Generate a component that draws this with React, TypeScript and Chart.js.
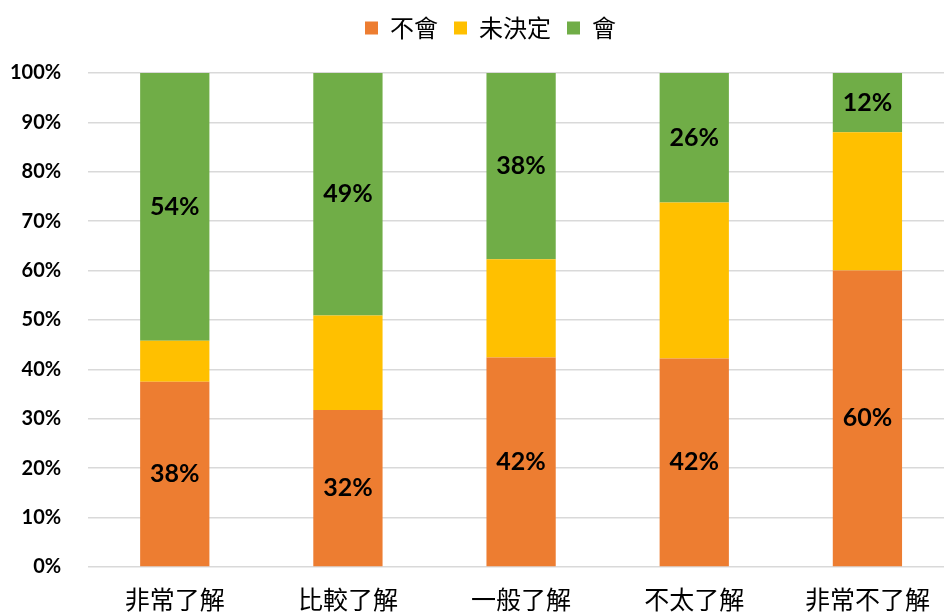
import React, { useEffect, useRef } from "react";
import { Chart, registerables, type ChartConfiguration, type Plugin } from "chart.js";

Chart.register(...registerables);

// chart data
const categories = ["非常了解", "比較了解", "一般了解", "不太了解", "非常不了解"];
const seriesNames = ["不會", "未決定", "會"];
const noValues = [37.5, 31.8, 42.4, 42.2, 60.0];
const undecidedValues = [8.3, 19.1, 19.9, 31.6, 28.0];
const yesValues = [54.2, 49.1, 37.7, 26.2, 12.0];
const yTicks = [0, 10, 20, 30, 40, 50, 60, 70, 80, 90, 100];

const COLORS = ["#ED7D31", "#FFC000", "#70AD47"];
const CJK_FONT = "'Noto Sans CJK TC', 'Noto Sans CJK SC', sans-serif";
const NUM_FONT = "Lato, 'Open Sans', sans-serif";

// draws the % values in the middle of the 不會 and 會 segments
const barLabels: Plugin<"bar"> = {
  id: "barLabels",
  afterDatasetsDraw(chart) {
    const ctx = chart.ctx;
    ctx.save();
    ctx.fillStyle = "#000000";
    ctx.font = `bold 25px ${NUM_FONT}`;
    ctx.textAlign = "center";
    ctx.textBaseline = "middle";
    [0, 2].forEach((di) => {
      const meta = chart.getDatasetMeta(di);
      const values = chart.data.datasets[di].data as number[];
      meta.data.forEach((el: any, i) => {
        const y = (el.y + el.base) / 2;
        ctx.fillText(`${Math.round(values[i])}%`, el.x, y);
      });
    });
    ctx.restore();
  },
};

// extra room under the legend, and legend nudged right to sit over the page centre
const legendGap: Plugin<"bar"> = {
  id: "legendGap",
  beforeInit(chart: any) {
    const fit = chart.legend.fit;
    chart.legend.fit = function () {
      fit.bind(this)();
      this.height += 23;
    };
  },
  afterLayout(chart: any) {
    chart.legend.left += 22;
    chart.legend.right += 22;
  },
};

const StackedChart: React.FC = () => {
  const canvasRef = useRef<HTMLCanvasElement | null>(null);

  useEffect(() => {
    if (!canvasRef.current) return;
    const config: ChartConfiguration<"bar"> = {
      type: "bar",
      data: {
        labels: categories,
        datasets: [noValues, undecidedValues, yesValues].map((d, i) => ({
          label: seriesNames[i],
          data: d,
          backgroundColor: COLORS[i],
          borderWidth: 0,
          barPercentage: 0.4,
          categoryPercentage: 1,
        })),
      },
      options: {
        responsive: true,
        maintainAspectRatio: false,
        animation: false,
        layout: { padding: { left: 4, right: 0, top: 0, bottom: 0 } },
        plugins: {
          legend: {
            position: "top",
            labels: {
              boxWidth: 13,
              boxHeight: 13,
              color: "#000000",
              font: { family: CJK_FONT, size: 24 },
              padding: 16,
            },
          },
          tooltip: { enabled: false },
        },
        scales: {
          x: {
            stacked: true,
            grid: { display: false },
            border: { display: false },
            ticks: { color: "#000000", font: { family: CJK_FONT, size: 25 }, padding: 9 },
          },
          y: {
            stacked: true,
            min: 0,
            max: 100,
            afterBuildTicks: (axis) => {
              axis.ticks = yTicks.map((v) => ({ value: v }));
            },
            grid: { color: "#D9D9D9", lineWidth: 1.5, drawTicks: false },
            border: { display: false },
            ticks: {
              color: "#000000",
              font: { family: NUM_FONT, size: 20, weight: "bold" },
              padding: 27,
              callback: (v) => `${v}%`,
            },
          },
        },
      },
      plugins: [barLabels, legendGap],
    };
    const chart = new Chart(canvasRef.current, config);
    return () => chart.destroy();
  }, []);

  return <canvas ref={canvasRef} />;
};

const App: React.FC = () => (
  <div style={styles.frame}>
    <div style={styles.inner}>
      <StackedChart />
    </div>
  </div>
);

const styles = {
  frame: { position: "absolute", left: 0, top: 0, width: "944px", height: "613px", overflow: "hidden", background: "#FFFFFF" } as React.CSSProperties,
  inner: { width: "975px", height: "623px", marginLeft: "-21px", position: "relative" } as React.CSSProperties,
};

export default App;
